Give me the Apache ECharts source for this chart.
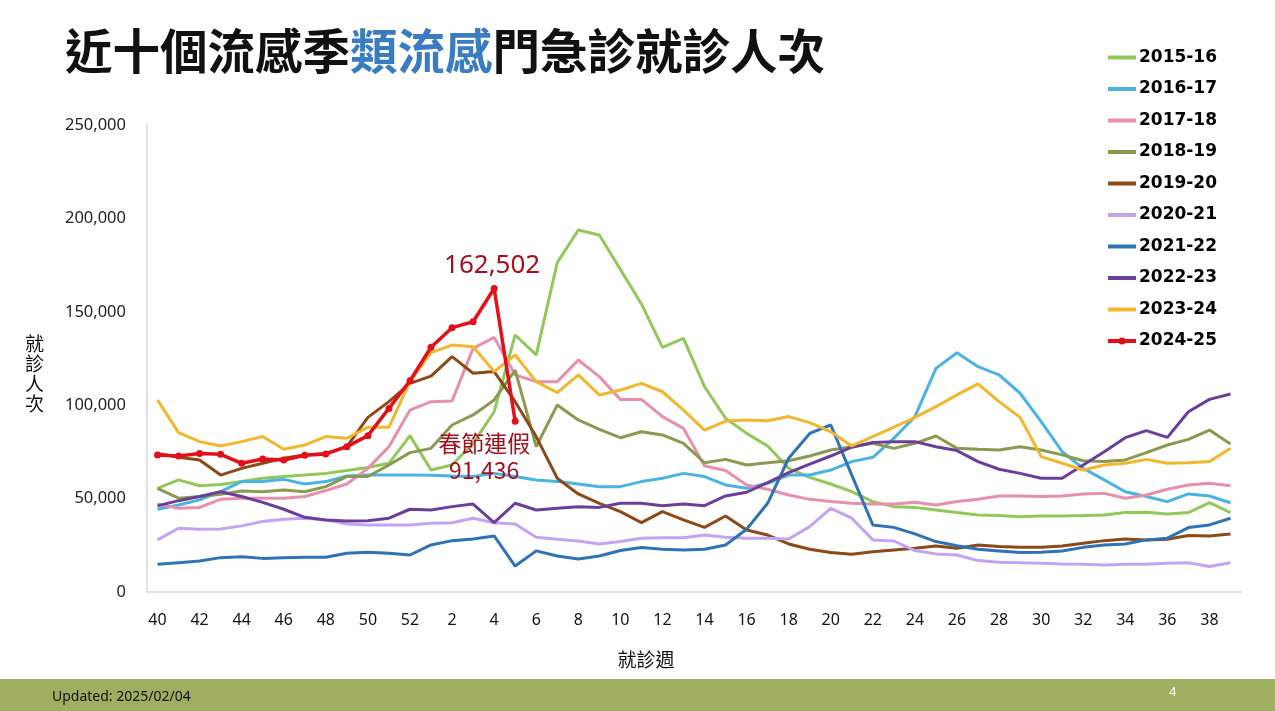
<!DOCTYPE html>
<html>
<head>
<meta charset="utf-8">
<script src="https://cdn.jsdelivr.net/npm/echarts@6/dist/echarts.min.js"></script>
<style>
  html, body { margin: 0; padding: 0; background: #fff; }
  #chart { width: 1275px; height: 711px; }
</style>
</head>
<body>
<div id="chart"></div>
<script>
// weeks of a flu season (week 40 through week 39 of next year)
const weeks = ['40','41','42','43','44','45','46','47','48','49','50','51','52',
  '1','2','3','4','5','6','7','8','9','10','11','12','13','14','15','16','17','18','19','20',
  '21','22','23','24','25','26','27','28','29','30','31','32','33','34','35','36','37','38','39'];

const s2015 = [55500,60000,56900,57600,59100,60900,61800,62600,63500,65000,66600,68900,83700,65300,68000,79600,96500,137600,
  126900,176300,193800,191100,172700,154200,131000,135800,109900,93000,84900,78200,66200,61400,57800,53700,48400,
  45700,45300,43900,42500,41200,40900,40300,40700,40700,40900,41200,42500,42700,41800,42500,47800,42500];
const s2016 = [44300,46600,49300,53700,59100,59100,60300,57800,59100,62100,62600,62600,62600,62500,62100,61800,63500,61800,
  60000,59100,57800,56400,56400,59100,60900,63500,61800,57300,55500,58200,62600,62600,65300,69800,72100,
  82300,93900,119700,128100,120600,116200,106400,91200,75100,66200,60000,53700,51100,48400,52500,51400,47800];
const s2017 = [47100,44800,45300,49600,50200,50200,50200,51100,54300,57800,66200,77800,97400,101900,102300,130400,136300,116200,
  112600,112600,124200,115300,103100,103100,93900,87600,67500,65000,57300,55000,51900,49600,48400,47500,47100,
  47100,48000,46600,48400,49600,51400,51400,51100,51400,52500,52800,50200,51900,55000,57300,58200,56900];
const s2018 = [55500,50200,51100,52300,54100,53700,54600,53700,56400,61800,61800,68000,74600,76900,89400,94800,102800,118800,
  77800,100100,92100,87100,82600,85800,84100,79600,69200,71000,68000,69200,70300,72800,76000,77800,79600,
  76900,79600,83500,76900,76400,76000,77800,76000,73400,70300,69800,70700,74600,78700,81700,86700,79200];
const s2019 = [74200,72100,70700,62600,66200,68900,71600,73400,74200,77800,93500,101900,111700,115600,126000,117100,118000,101900,
  83200,60900,52500,47500,43000,37100,43000,38600,34600,40700,33200,30500,25700,22900,21100,20200,21600,
  22500,23400,24600,23400,25200,24300,23900,23900,24600,26100,27500,28400,27900,28200,30200,30000,31100];
const s2020 = [27900,34100,33600,33700,35400,37700,38900,39500,38600,36400,35900,35900,35900,36800,37100,39500,37100,36400,
  29300,28200,27300,25700,27000,28800,29100,29100,30500,29300,28800,28800,28400,35000,44800,39500,27900,
  27300,22200,20400,19800,16800,15900,15700,15400,15000,14800,14500,14800,14800,15400,15700,13600,15700];
const s2021 = [14800,15700,16600,18400,18900,18000,18400,18600,18600,20700,21300,20700,19800,25200,27500,28400,30000,13900,
  22000,19300,17700,19300,22200,23800,22900,22500,22900,25200,33600,47500,71600,84900,89400,62600,35900,
  34600,31100,27000,24800,22900,22000,21100,21300,22000,23900,25200,25700,27900,28800,34500,35900,39500];
const s2022 = [46100,48900,51100,53700,51100,48000,44300,40000,38600,38000,38200,39500,44300,43900,45700,47100,37100,47500,
  43900,44800,45700,45300,47500,47500,46200,47100,46200,51400,53400,58500,63900,68500,72800,77500,80000,
  80500,80500,77800,75700,69800,65700,63500,60900,60900,68000,75100,82600,86400,82800,96500,103100,106000];
const s2023 = [102800,85300,80500,78200,80500,83200,76400,78700,83200,82300,88200,88200,112600,128100,132200,131300,118000,126900,
  112600,106700,116200,105500,108100,111700,107200,97400,86700,91500,92100,91700,93900,90700,85800,78200,83200,
  88200,93500,99200,105500,111400,101900,93500,72500,68900,65300,68000,68900,71000,68900,69200,69800,76900];
const s2024 = [73400,72800,74200,73700,68900,71200,70700,73200,73900,77800,83700,98300,113100,131000,141500,144700,162502,91436];

const seasons = ['2015-16','2016-17','2017-18','2018-19','2019-20','2020-21','2021-22','2022-23','2023-24','2024-25'];
const colors = ['#92C85A','#4BB3E3','#E78FAD','#8A9A51','#8B4A17','#C3A4F2','#2F73B5','#6B3F98','#F2B72E','#E3101B'];
const values = [s2015, s2016, s2017, s2018, s2019, s2020, s2021, s2022, s2023, s2024];

const noteColor = '#A30F1F';

const chart = echarts.init(document.getElementById('chart'));

const series = seasons.map((name, k) => {
  const last = k === seasons.length - 1;
  let data = values[k];
  if (last) {
    data = values[k].map((v, i) => {
      if (i === 16) {
        return { value: v, label: { show: true, position: 'top', distance: 6, offset: [-2, 0],
          formatter: p => p.value.toLocaleString('en-US'),
          color: noteColor, fontSize: 26, fontFamily: 'Noto Sans' } };
      }
      if (i === 17) {
        return { value: v, label: { show: true, position: 'bottom', distance: 5, offset: [-31, 0],
          formatter: p => '春節連假\n' + p.value.toLocaleString('en-US'),
          color: noteColor, fontSize: 23, lineHeight: 27, fontFamily: 'Noto Sans CJK TC' } };
      }
      return v;
    });
  }
  return {
    name: name,
    type: 'line',
    data: data,
    z: last ? 10 : 2,
    symbol: last ? 'circle' : 'none',
    symbolSize: 7,
    showSymbol: last,
    itemStyle: { color: colors[k] },
    lineStyle: { width: last ? 3.5 : 3, color: colors[k] },
    emphasis: { disabled: true },
    animation: false
  };
});

chart.setOption({
  animation: false,
  title: {
    text: '{a|近十個流感季}{b|類流感}{a|門急診就診人次}',
    left: 60,
    top: 22,
    textStyle: {
      rich: {
        a: { fontSize: 47.5, fontWeight: 'bold', color: '#111', fontFamily: 'Noto Sans CJK TC' },
        b: { fontSize: 47.5, fontWeight: 'bold', color: '#3A7CC2', fontFamily: 'Noto Sans CJK TC' }
      }
    }
  },
  legend: {
    orient: 'vertical',
    left: 1101,
    top: 44,
    itemWidth: 28,
    itemHeight: 9,
    itemGap: 14.5,
    lineStyle: { width: 4 },
    data: seasons.map((s, k) => k === seasons.length - 1 ? { name: s } : { name: s, itemStyle: { opacity: 0 } }),
    textStyle: { fontSize: 17, fontWeight: 'bold', color: '#000', fontFamily: 'DejaVu Sans', padding: [0, 0, 0, -2] }
  },
  grid: { left: 147, right: 34, top: 125, bottom: 119 },
  xAxis: {
    type: 'category',
    data: weeks,
    boundaryGap: true,
    name: '就診週',
    nameLocation: 'middle',
    nameGap: 58,
    nameTextStyle: { fontSize: 19, color: '#111', fontFamily: 'Noto Sans CJK TC', padding: [0, 96, 0, 0] },
    axisLine: { lineStyle: { color: '#D9D9D9', width: 1.5 } },
    axisTick: { show: false },
    axisLabel: { interval: 1, margin: 20, fontSize: 16, color: '#111', fontFamily: 'Noto Sans' }
  },
  yAxis: {
    type: 'value',
    min: 0,
    max: 250000,
    interval: 50000,
    axisLine: { show: true, lineStyle: { color: '#D9D9D9', width: 1.5 } },
    axisTick: { show: false },
    splitLine: { show: false },
    axisLabel: {
      margin: 21, fontSize: 16.5, color: '#222', fontFamily: 'Noto Sans',
      formatter: v => v.toLocaleString('en-US')
    }
  },
  graphic: [
    { type: 'text', left: 25, top: 334, style: { text: '就\n診\n人\n次', fontSize: 19, lineHeight: 20, fill: '#111', fontFamily: 'Noto Sans CJK TC' } },
    { type: 'rect', left: 0, top: 679, shape: { width: 1275, height: 32 }, style: { fill: '#9FAF62' }, silent: true },
    { type: 'text', left: 52, top: 690, style: { text: 'Updated: 2025/02/04', fontSize: 14, fill: '#111', fontFamily: 'Noto Sans' } },
    { type: 'text', left: 1169, top: 686, style: { text: '4', fontSize: 13, fill: '#fff', fontFamily: 'Noto Sans' } }
  ],
  series: series
});
</script>
</body>
</html>
